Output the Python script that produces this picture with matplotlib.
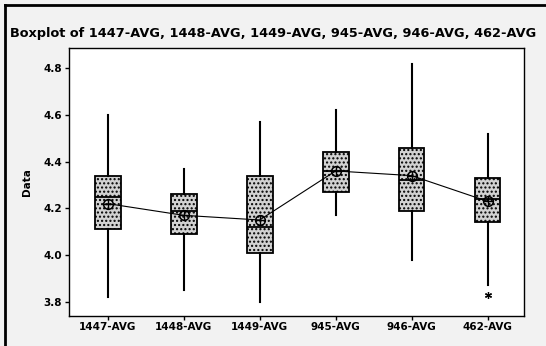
import matplotlib.pyplot as plt
from matplotlib.lines import Line2D

labels = ['1447-AVG', '1448-AVG', '1449-AVG', '945-AVG', '946-AVG', '462-AVG']
whislo = [3.82, 3.85, 3.80, 4.17, 3.98, 3.87]
q1 = [4.11, 4.09, 4.01, 4.27, 4.19, 4.14]
med = [4.25, 4.19, 4.12, 4.36, 4.32, 4.24]
q3 = [4.34, 4.26, 4.34, 4.44, 4.46, 4.33]
whishi = [4.60, 4.37, 4.57, 4.62, 4.82, 4.52]
means = [4.22, 4.17, 4.15, 4.36, 4.34, 4.23]
fliers = [[], [], [], [], [], [3.83]]

stats = []
for i in range(len(labels)):
    stats.append({'label': labels[i], 'whislo': whislo[i], 'q1': q1[i], 'med': med[i],
                  'q3': q3[i], 'whishi': whishi[i], 'mean': means[i], 'fliers': fliers[i]})

fig = plt.figure(figsize=(5.46, 3.46), dpi=100, facecolor='#f2f2f2')
ax = fig.add_axes([69 / 546, 1 - 315.5 / 346, 455 / 546, 267.5 / 346])

pos = list(range(1, len(labels) + 1))
bp = ax.bxp(stats, positions=pos, widths=0.34, patch_artist=True, showcaps=False,
            boxprops=dict(facecolor='#d2d2d2', edgecolor='black', linewidth=1.3, hatch='....'),
            medianprops=dict(color='black', linewidth=1.3),
            whiskerprops=dict(color='black', linewidth=1.5),
            flierprops=dict(marker=(6, 2, 0), markersize=5, markeredgecolor='black', markeredgewidth=0.9))

# mean symbols joined by a line
ax.plot(pos, means, color='black', linewidth=0.8, zorder=4)
ax.plot(pos, means, linestyle='none', marker='o', markersize=7, markerfacecolor='none',
        markeredgecolor='black', markeredgewidth=1.1, zorder=5)
ax.plot(pos, means, linestyle='none', marker='+', markersize=7, markeredgecolor='black',
        markeredgewidth=1.0, zorder=5)

ax.set_xlim(0.49, 6.48)
ax.set_ylim(3.741, 4.8865)
ax.set_yticks([3.8, 4.0, 4.2, 4.4, 4.6, 4.8])
ax.set_yticklabels(['3.8', '4.0', '4.2', '4.4', '4.6', '4.8'])
ax.set_xticks(pos)
ax.set_xticklabels(labels)
ax.tick_params(axis='both', labelsize=7.5, length=3, width=1, direction='out', pad=2)
for lab in ax.get_xticklabels() + ax.get_yticklabels():
    lab.set_fontweight('bold')
ax.set_ylabel('Data', fontsize=7.5, fontweight='bold', labelpad=8)
for s in ax.spines.values():
    s.set_linewidth(1.0)

fig.text(0.5, 1 - 33 / 346, 'Boxplot of 1447-AVG, 1448-AVG, 1449-AVG, 945-AVG, 946-AVG, 462-AVG',
         ha='center', va='center', fontsize=9.3, fontweight='bold')

# outer frame lines
fig.add_artist(Line2D([5 / 546, 5 / 546], [0, 1 - 5 / 346], transform=fig.transFigure,
                      color='black', linewidth=2))
fig.add_artist(Line2D([5 / 546, 1], [1 - 5 / 346, 1 - 5 / 346], transform=fig.transFigure,
                      color='black', linewidth=2))

fig.savefig('out.png', dpi=100, facecolor=fig.get_facecolor())
